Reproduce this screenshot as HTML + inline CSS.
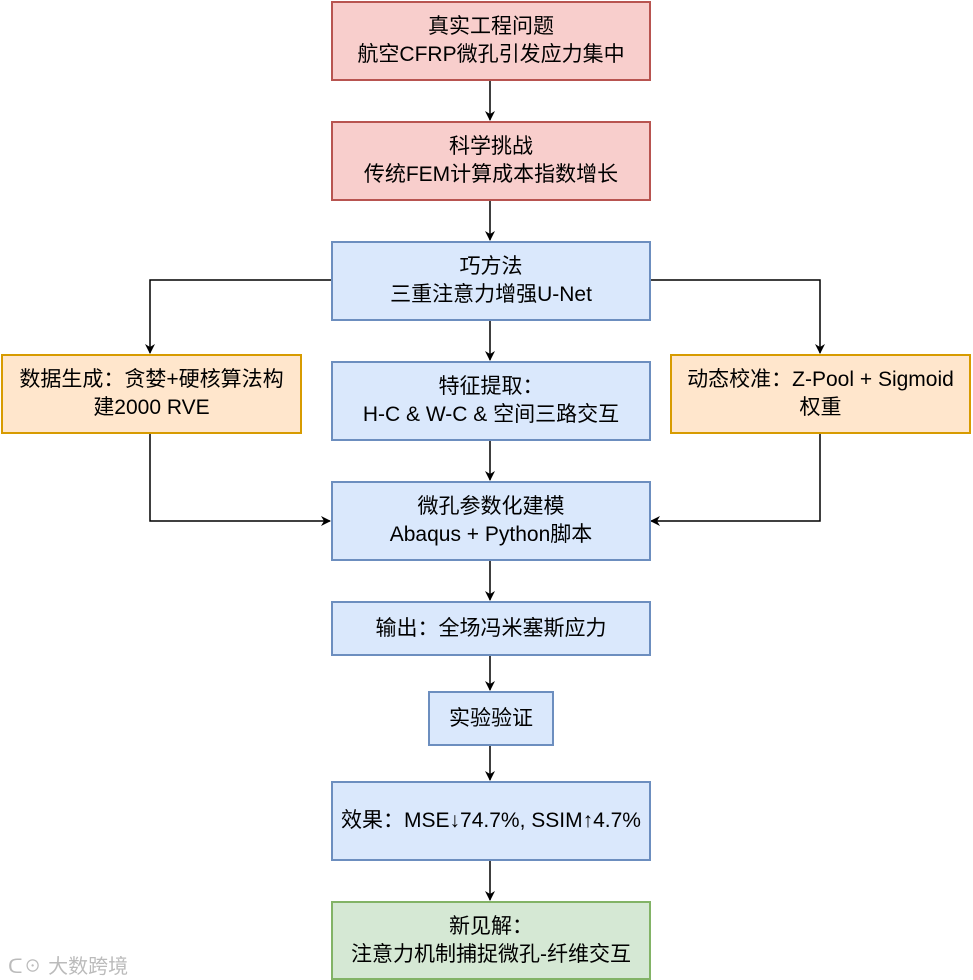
<!DOCTYPE html>
<html><head><meta charset="utf-8"><style>
body{margin:0;width:973px;height:980px;background:#fff;overflow:hidden;position:relative;font-family:"Liberation Sans","Noto Sans CJK SC",sans-serif;}
.b{position:absolute;box-sizing:border-box;border:2px solid;display:flex;align-items:center;justify-content:center;text-align:center;font-size:21px;line-height:28px;color:#000;}
.r{background:#f8cecc;border-color:#b85450}
.u{background:#dae8fc;border-color:#6c8ebf}
.o{background:#ffe6cc;border-color:#d79b00}
.g{background:#d5e8d4;border-color:#82b366}
svg{position:absolute;left:0;top:0}
</style></head><body>
<svg width="973" height="980">
<defs><marker id="a" markerWidth="10" markerHeight="10" refX="9" refY="5" orient="auto" markerUnits="userSpaceOnUse"><path d="M0,0 L10,5 L0,10 L3,5z" fill="#000"/></marker></defs>
<g stroke="#000" stroke-width="1.5" fill="none" marker-end="url(#a)">
<path d="M490,80 V120"/>
<path d="M490,200 V240"/>
<path d="M490,320 V360"/>
<path d="M490,440 V480"/>
<path d="M490,560 V600"/>
<path d="M490,655 V690"/>
<path d="M490,745 V780"/>
<path d="M490,860 V900"/>
<path d="M331,280 H150 V353"/>
<path d="M650,280 H820 V353"/>
<path d="M150,433 V521 H330"/>
<path d="M820,433 V521 H651"/>
</g></svg>
<div class="b r" style="left:331px;top:1px;width:320px;height:80px">真实工程问题<br>航空CFRP微孔引发应力集中</div>
<div class="b r" style="left:331px;top:121px;width:320px;height:80px">科学挑战<br>传统FEM计算成本指数增长</div>
<div class="b u" style="left:331px;top:241px;width:320px;height:80px">巧方法<br>三重注意力增强U-Net</div>
<div class="b o" style="left:1px;top:354px;width:301px;height:80px">数据生成：贪婪+硬核算法构<br>建2000 RVE</div>
<div class="b u" style="left:331px;top:361px;width:320px;height:80px">特征提取：<br>H-C &amp; W-C &amp; 空间三路交互</div>
<div class="b o" style="left:670px;top:354px;width:301px;height:80px">动态校准：Z-Pool + Sigmoid<br>权重</div>
<div class="b u" style="left:331px;top:481px;width:320px;height:80px">微孔参数化建模<br>Abaqus + Python脚本</div>
<div class="b u" style="left:331px;top:601px;width:320px;height:55px">输出：全场冯米塞斯应力</div>
<div class="b u" style="left:428px;top:691px;width:126px;height:55px">实验验证</div>
<div class="b u" style="left:331px;top:781px;width:320px;height:80px">效果：MSE↓74.7%, SSIM↑4.7%</div>
<div class="b g" style="left:331px;top:901px;width:320px;height:79px">新见解：<br>注意力机制捕捉微孔-纤维交互</div>
<div style="position:absolute;left:8px;top:950px;font-size:20px;color:#bbb;">ᑕ☉ 大数跨境</div>
</body></html>
